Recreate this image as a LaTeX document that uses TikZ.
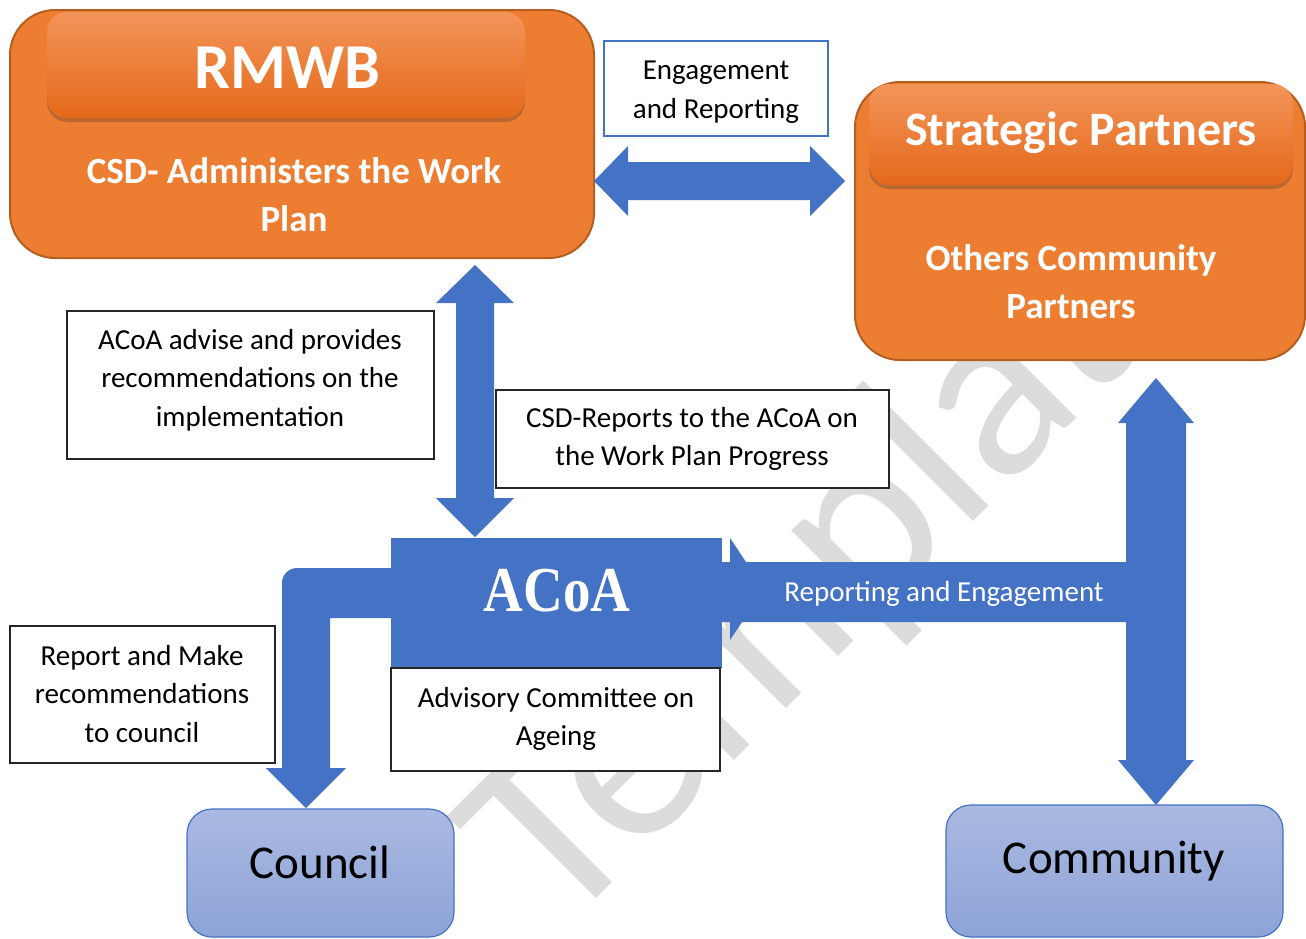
\documentclass[tikz,border=0pt]{standalone}
\usepackage{fontspec}
\setmainfont{Carlito}
\newfontfamily\acoafont{Liberation Serif}
\usetikzlibrary{shadows,calc}
\definecolor{orangeF}{HTML}{ED7D31}
\definecolor{orangeD}{HTML}{B55E22}
\definecolor{blueA}{HTML}{4472C4}
\definecolor{lightT}{HTML}{AAB9E1}
\definecolor{lightB}{HTML}{8DA4D8}
\definecolor{headT}{HTML}{F39459}
\definecolor{headB}{HTML}{E4691A}
\definecolor{wmark}{HTML}{DCDCDC}
\tikzset{
  orangebox/.style={draw=orangeD, line width=2pt, fill=orangeF, rounded corners=45pt, inner sep=0pt},
  headbox/.style={rounded corners=20pt, top color=headT, bottom color=headB,
    drop shadow={shadow xshift=0pt, shadow yshift=-4pt, opacity=0.28, fill=black!80}, inner sep=0pt},
  textbox/.style={draw=black!85, line width=1.3pt, fill=white, inner sep=0pt},
  engbox/.style={draw=blueA, line width=2pt, fill=white, inner sep=0pt},
  lightbox/.style={draw=blueA, line width=1.2pt, rounded corners=25pt, top color=lightT, bottom color=lightB, inner sep=0pt},
  smalltext/.style={font=\fontsize{29}{38.5}\selectfont, align=center, inner sep=0pt},
  whitebold/.style={text=white, align=center, inner sep=0pt},
  bigtext/.style={font=\fontsize{47}{52}\selectfont, inner sep=0pt},
  blockarrow/.style={fill=blueA},
}
\begin{document}
\begin{tikzpicture}[x=1pt,y=-1pt]
\useasboundingbox (0,0) rectangle (1306,938);
% watermark
\node[rotate=45, anchor=base west, text=wmark, font=\fontsize{255}{255}\selectfont, inner sep=0pt] (wm) at (560,935) {Template};

% orange boxes
\node[orangebox, minimum width=584pt, minimum height=248pt] (rmwb) at (302,134) {};
\node[headbox, minimum width=478pt, minimum height=106pt] (rmwbhead) at (286,65) {};
\node[whitebold, font=\bfseries\fontsize{64}{70}\selectfont] (rmwbT) at (287,68) {RMWB};
\node[whitebold, font=\bfseries\fontsize{37}{48}\selectfont] (csdT) at (294,195) {CSD- Administers the Work\\Plan};

\node[orangebox, minimum width=450pt, minimum height=278pt] (sp) at (1080,221) {};
\node[headbox, minimum width=424pt, minimum height=101pt] (sphead) at (1081,134.5) {};
\node[whitebold, font=\bfseries\fontsize{48}{54}\selectfont] (spT) at (1081,133) {Strategic Partners};
\node[whitebold, font=\bfseries\fontsize{37}{48}\selectfont] (ocpT) at (1071,282) {Others Community\\Partners};

% engagement label
\node[engbox, minimum width=224pt, minimum height=95pt] (eng) at (716,88.5) {};
\node[smalltext] (engT) at (716,92) {Engagement\\and Reporting};

% horizontal double arrow RMWB <-> Strategic Partners
\coordinate (hL) at (594,181);
\coordinate (hR) at (845,181);
\fill[blockarrow] (hL) -- (628,146) -- (628,162) -- (810,162) -- (810,146) -- (hR)
  -- (810,216) -- (810,200) -- (628,200) -- (628,216) -- cycle;

% vertical double arrow RMWB <-> ACoA
\coordinate (vT) at (475,265);
\coordinate (vB) at (475,537);
\fill[blockarrow] (vT) -- (514,303) -- (494,303) -- (494,498) -- (514,498) -- (vB)
  -- (436,498) -- (456,498) -- (456,303) -- (436,303) -- cycle;

% T arrow: ACoA -> right, up to Strategic Partners, down to Community
\coordinate (tT) at (1156,378);
\coordinate (tB) at (1156,805);
\fill[blockarrow] (715,562) -- (1126,562) -- (1126,423) -- (1118,423) -- (tT) -- (1194,423)
  -- (1186,423) -- (1186,760) -- (1194,760) -- (tB) -- (1118,760) -- (1126,760)
  -- (1126,622) -- (715,622) -- cycle;
\fill[blockarrow] (730,538) -- (764,589) -- (730,640) -- cycle;

% elbow arrow ACoA -> Council
\coordinate (eTip) at (306,808);
\fill[blockarrow] (395,568) -- (297,568) .. controls (288.7,568) and (282,574.7) .. (282,583)
  -- (282,768) -- (266,768) -- (eTip) -- (346,768) -- (330,768) -- (330,618) -- (395,618) -- cycle;

% ACoA block
\node[fill=blueA, minimum width=331pt, minimum height=130pt, inner sep=0pt] (acoa) at (556.5,603) {};
\node[text=white, inner sep=0pt, font=\acoafont\bfseries\fontsize{64}{70}\selectfont] (acoaT) at (557,591) {\scalebox{0.86}[1]{ACoA}};
\node[textbox, minimum width=329pt, minimum height=103pt] (adv) at (555.5,719.5) {};
\node[smalltext] (advT) at (556,719) {Advisory Committee on\\Ageing};

\node[text=white, inner sep=0pt, font=\fontsize{29}{35}\selectfont] (repT) at (944,594) {Reporting and Engagement};

% text boxes
\node[textbox, minimum width=367pt, minimum height=148pt] (advise) at (250.5,385) {};
\node[smalltext] (adviseT) at (250,380) {ACoA advise and provides\\recommendations on the\\implementation};

\node[textbox, minimum width=393pt, minimum height=98pt] (csdrep) at (692.5,439) {};
\node[smalltext] (csdrepT) at (692,439) {CSD-Reports to the ACoA on\\the Work Plan Progress};

\node[textbox, minimum width=265pt, minimum height=137pt] (rep) at (142.5,694.5) {};
\node[smalltext] (repmT) at (142,694) {Report and Make\\recommendations\\to council};

% bottom boxes
\node[lightbox, minimum width=267pt, minimum height=128pt] (council) at (320.5,873) {};
\node[bigtext] (councilT) at (320,862) {Council};
\node[lightbox, minimum width=337pt, minimum height=132pt] (community) at (1114.5,871) {};
\node[bigtext] (communityT) at (1114,861) {Community};
\end{tikzpicture}
\end{document}
